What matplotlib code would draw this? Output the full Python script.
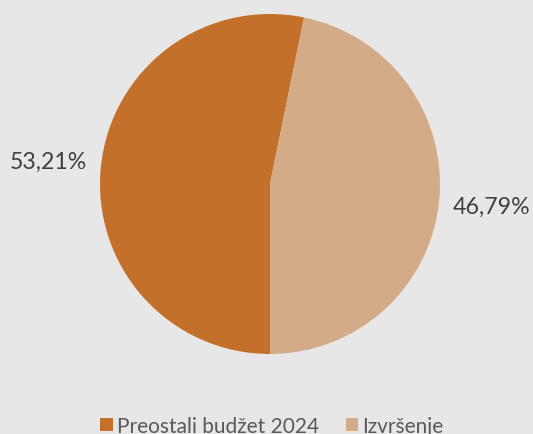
import matplotlib.pyplot as plt
from matplotlib.patches import Patch

categories = ["Preostali budžet 2024", "Izvršenje"]
shares = [53.21, 46.79]
colors = ["#c3702b", "#d4ab87"]
BG = "#e7e7e7"

plt.rcParams["font.family"] = ["Lato", "DejaVu Sans"]

fig = plt.figure(figsize=(5.33, 4.35), dpi=100, facecolor=BG)
ax = fig.add_axes([100 / 533, 80 / 435, 340 / 533, 340 / 435])
ax.set_facecolor(BG)

start = 270 - 360 * shares[0] / 100
wedges, _, autotexts = ax.pie(
    shares, colors=colors, startangle=start, radius=1.0,
    autopct=lambda p: f"{p:.2f}%".replace(".", ","),
    pctdistance=1.31, wedgeprops=dict(linewidth=0),
    textprops=dict(fontsize=16.7, color="#404040"),
)
for t in autotexts:
    t.set_clip_on(False)
ax.set_xlim(-1, 1)
ax.set_ylim(-1, 1)
ax.set_aspect("equal")
ax.axis("off")

handles = [Patch(facecolor=c, edgecolor="none") for c in colors]
fig.legend(handles, categories, loc="lower center", bbox_to_anchor=(0.51, -0.047),
           ncol=2, frameon=False, fontsize=15, labelcolor="#595959",
           handlelength=0.6, handleheight=0.6, handletextpad=0.2, columnspacing=1.28)

fig.savefig("out.png", dpi=100, facecolor=BG)
